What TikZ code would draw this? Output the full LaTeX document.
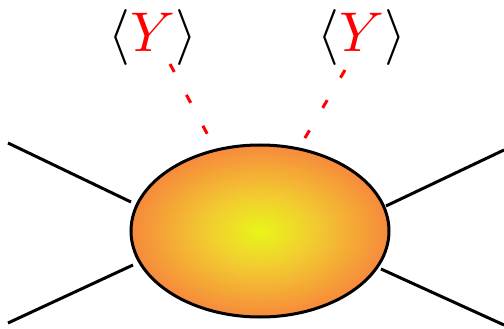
\documentclass[tikz,border=0pt]{standalone}
\usetikzlibrary{shapes.geometric}
\definecolor{blobcenter}{RGB}{232,245,25}
\definecolor{blobmid}{RGB}{242,205,48}
\definecolor{blobmidb}{RGB}{245,160,55}
\definecolor{blobedge}{RGB}{248,120,65}
\pgfdeclareradialshading{blobshade}{\pgfpoint{0bp}{0bp}}{color(0bp)=(blobcenter); color(10bp)=(blobmid); color(20bp)=(blobmidb); color(29bp)=(blobedge); color(50bp)=(blobedge)}
\tikzset{
  leg/.style={line width=3pt, black},
  ins/.style={line width=3pt, red, dash pattern=on 9pt off 26pt},
  lbl/.style={inner sep=0pt, scale=5.6},
  blobstyle/.style={ellipse, draw, line width=3pt, minimum width=258pt, minimum height=172pt, inner sep=0pt, shading=blobshade}
}
\begin{document}
\begin{tikzpicture}[x=1pt,y=-1pt]
\useasboundingbox (0,0) rectangle (504,329);
\node[blobstyle] (blob) at (260,231) {};
\coordinate (lu) at (8,143);
\coordinate (ll) at (8,323);
\coordinate (ru) at (504,150);
\coordinate (rl) at (504,325);
\coordinate (blu) at (131,202);
\coordinate (bll) at (133,265);
\coordinate (bru) at (386,206);
\coordinate (brl) at (381,269);
\draw[leg] (lu) -- (blu);
\draw[leg] (ll) -- (bll);
\draw[leg] (ru) -- (bru);
\draw[leg] (rl) -- (brl);
\node[lbl] (y1) at (153,38) {$\langle{\color{red}Y}\rangle$};
\node[lbl] (y2) at (362,38) {$\langle{\color{red}Y}\rangle$};
\coordinate (d1a) at (170,64);
\coordinate (d1b) at (211,141);
\coordinate (d2a) at (345,70);
\coordinate (d2b) at (302,143);
\draw[ins] (d1a) -- (d1b);
\draw[ins] (d2a) -- (d2b);
\end{tikzpicture}
\end{document}
